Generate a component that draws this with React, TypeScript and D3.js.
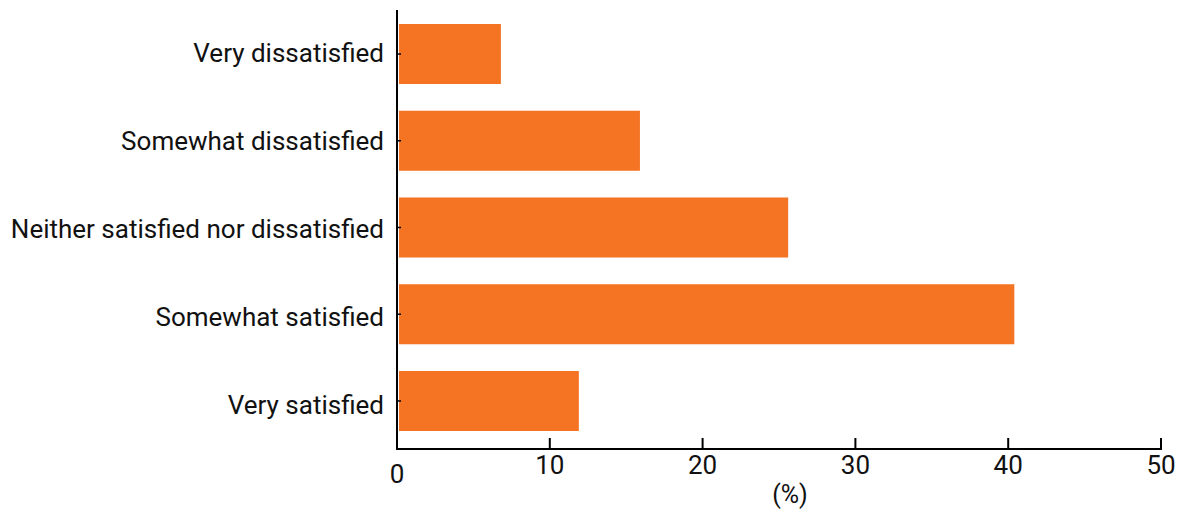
import React from "react";
import * as d3 from "d3";

const categories = [
  "Very dissatisfied",
  "Somewhat dissatisfied",
  "Neither satisfied nor dissatisfied",
  "Somewhat satisfied",
  "Very satisfied",
];
const values = [6.8, 15.9, 25.6, 40.4, 11.9];
const xTicks = [0, 10, 20, 30, 40, 50];
const xLabel = "(%)";

const W = 1184;
const H = 516;
const FONT = "Roboto, 'Noto Sans', sans-serif";
const BAR = "#f47424";
const FS = 26;

export default function App() {
  const x = d3.scaleLinear().domain([0, 50]).range([397, 1161]);
  const y = d3
    .scaleBand<string>()
    .domain(categories)
    .range([24, 431])
    .paddingInner(0.308)
    .paddingOuter(0);
  const yLabel = d3.scalePoint<string>().domain(categories).range([62, 414]);
  const axisY = 449;
  return (
    <svg
      width={W}
      height={H}
      style={{ position: "absolute", left: 0, top: 0, background: "#fff" }}
    >
      {categories.map((c, i) => (
        <g key={c}>
          <rect
            x={x(0) + 2}
            y={y(c)!}
            width={x(values[i]) - x(0) - 2}
            height={y.bandwidth()}
            fill={BAR}
          />
          <line
            x1={x(0)}
            x2={x(0) + 4}
            y1={y(c)! + y.bandwidth() / 2}
            y2={y(c)! + y.bandwidth() / 2}
            stroke="#000"
            strokeWidth={1.5}
          />
          <text
            x={384}
            y={yLabel(c)!}
            textAnchor="end"
            fontFamily={FONT}
            fontSize={FS}
            fill="#111"
          >
            {c}
          </text>
        </g>
      ))}
      <line x1={x(0)} x2={x(0)} y1={10} y2={axisY + 1} stroke="#000" strokeWidth={2} />
      <line x1={x(0)} x2={x(50) + 1} y1={axisY} y2={axisY} stroke="#000" strokeWidth={2} />
      {xTicks.map((t) => (
        <g key={t}>
          {t !== 0 && (
            <line x1={x(t)} x2={x(t)} y1={axisY} y2={axisY - 11} stroke="#000" strokeWidth={2} />
          )}
          <text
            x={x(t)}
            y={t === 0 ? 483 : 474}
            textAnchor="middle"
            fontFamily={FONT}
            fontSize={FS}
            fill="#111"
          >
            {t}
          </text>
        </g>
      ))}
      <text
        x={790}
        y={503}
        textAnchor="middle"
        fontFamily={FONT}
        fontSize={25}
        fill="#111"
      >
        {xLabel}
      </text>
    </svg>
  );
}
